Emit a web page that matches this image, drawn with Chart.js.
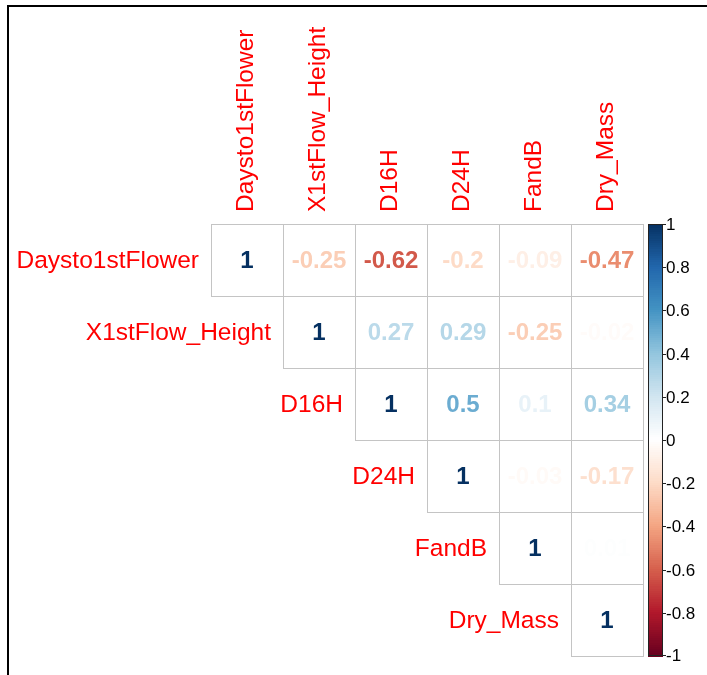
<!DOCTYPE html>
<html>
<head>
<meta charset="utf-8">
<script src="https://cdn.jsdelivr.net/npm/chart.js@4/dist/chart.umd.min.js"></script>
<style>
  html, body { margin: 0; padding: 0; background: #fff; }
  #wrap { position: relative; width: 707px; height: 675px; }
  #frame { position: absolute; left: 7px; top: 5px; right: 0; bottom: 0;
           border-top: 2px solid #000; border-left: 2px solid #000; pointer-events: none; }
  canvas { display: block; }
</style>
</head>
<body>
<div id="wrap">
  <canvas id="c" width="707" height="675"></canvas>
  <div id="frame"></div>
</div>
<script>
// ---- data ----
const variables = ['Daysto1stFlower', 'X1stFlow_Height', 'D16H', 'D24H', 'FandB', 'Dry_Mass'];
const corrDaysto1stFlower = [1, -0.25, -0.62, -0.2, -0.09, -0.47];
const corrX1stFlowHeight  = [null, 1, 0.27, 0.29, -0.25, -0.02];
const corrD16H            = [null, null, 1, 0.5, 0.1, 0.34];
const corrD24H            = [null, null, null, 1, -0.03, -0.17];
const corrFandB           = [null, null, null, null, 1, 0.01];
const corrDryMass         = [null, null, null, null, null, 1];
const legendTicks = [1, 0.8, 0.6, 0.4, 0.2, 0, -0.2, -0.4, -0.6, -0.8, -1];
const rdbu = ['#67001F', '#B2182B', '#D6604D', '#F4A582', '#FDDBC7', '#FFFFFF',
              '#D1E5F0', '#92C5DE', '#4393C3', '#2166AC', '#053061'];

const corrRows = [corrDaysto1stFlower, corrX1stFlowHeight, corrD16H, corrD24H, corrFandB, corrDryMass];

function hex2rgb(h) { return [parseInt(h.slice(1,3),16), parseInt(h.slice(3,5),16), parseInt(h.slice(5,7),16)]; }
const stops = rdbu.map(hex2rgb);
function colorFor(v) {
  const t = Math.max(0, Math.min(1, (v + 1) / 2)) * (stops.length - 1);
  const i = Math.min(stops.length - 2, Math.floor(t));
  const f = t - i;
  const a = stops[i], b = stops[i + 1];
  return 'rgb(' + a.map((c, k) => Math.round(c + (b[k] - c) * f)).join(',') + ')';
}

const points = [];
corrRows.forEach((row, i) => row.forEach((v, j) => {
  if (v !== null) points.push({ x: j + 0.5, y: i + 0.5, v: v });
}));

const LABEL_FONT = '24.5px "Liberation Sans", Arial, sans-serif';
const NUM_FONT = 'bold 24px "Liberation Sans", Arial, sans-serif';
const LEG_FONT = '17px "Liberation Sans", Arial, sans-serif';

const corrPlugin = {
  id: 'corrPlugin',
  afterDatasetsDraw(chart) {
    const ctx = chart.ctx;
    const xs = chart.scales.x, ys = chart.scales.y, yc = chart.scales.yc;
    const data = chart.data.datasets[0].data;
    ctx.save();
    // cells
    ctx.strokeStyle = '#C4C4C4';
    ctx.lineWidth = 1;
    data.forEach(p => {
      const x0 = Math.round(xs.getPixelForValue(p.x - 0.5)) + 0.5;
      const x1 = Math.round(xs.getPixelForValue(p.x + 0.5)) + 0.5;
      const y0 = Math.round(ys.getPixelForValue(p.y - 0.5)) + 0.5;
      const y1 = Math.round(ys.getPixelForValue(p.y + 0.5)) + 0.5;
      ctx.fillStyle = '#fff';
      ctx.fillRect(x0, y0, x1 - x0, y1 - y0);
      ctx.strokeRect(x0, y0, x1 - x0, y1 - y0);
    });
    // numbers
    ctx.font = NUM_FONT;
    ctx.textAlign = 'center';
    ctx.textBaseline = 'middle';
    data.forEach(p => {
      ctx.fillStyle = colorFor(p.v);
      ctx.fillText(String(p.v), xs.getPixelForValue(p.x), ys.getPixelForValue(p.y) + 1);
    });
    // row labels
    ctx.font = LABEL_FONT;
    ctx.fillStyle = '#FF0000';
    ctx.textAlign = 'right';
    variables.forEach((name, i) => {
      ctx.fillText(name, xs.getPixelForValue(i) - 12, ys.getPixelForValue(i + 0.5) + 1);
    });
    // column labels (rotated)
    ctx.textAlign = 'left';
    variables.forEach((name, j) => {
      ctx.save();
      ctx.translate(xs.getPixelForValue(j + 0.5) - 1, ys.getPixelForValue(0) - 12);
      ctx.rotate(-Math.PI / 2);
      ctx.fillText(name, 0, 0);
      ctx.restore();
    });
    // colour legend
    const bx0 = xs.right + 5, bx1 = xs.right + 20;
    const top = yc.getPixelForValue(1), bot = yc.getPixelForValue(-1);
    const n = 200;
    for (let k = 0; k < n; k++) {
      const v1 = 1 - (2 * k) / n, v2 = 1 - (2 * (k + 1)) / n;
      const ya = yc.getPixelForValue(v1), yb = yc.getPixelForValue(v2);
      ctx.fillStyle = colorFor((v1 + v2) / 2);
      ctx.fillRect(bx0, Math.floor(ya), bx1 - bx0, Math.ceil(yb) - Math.floor(ya) + 1);
    }
    ctx.strokeStyle = '#222';
    ctx.lineWidth = 1;
    ctx.strokeRect(bx0 + 0.5, Math.round(top) + 0.5, bx1 - bx0 - 1, Math.round(bot - top) - 1);
    ctx.font = LEG_FONT;
    ctx.fillStyle = '#000';
    ctx.textAlign = 'left';
    ctx.textBaseline = 'middle';
    legendTicks.forEach(t => {
      const y = Math.round(yc.getPixelForValue(t)) + 0.5;
      const yy = Math.min(Math.max(y, top + 0.5), bot - 0.5);
      ctx.beginPath();
      ctx.moveTo(bx1, yy);
      ctx.lineTo(bx1 + 3, yy);
      ctx.stroke();
      ctx.fillText(String(t), bx1 + 3, yy + 1);
    });
    ctx.restore();
  }
};

new Chart(document.getElementById('c'), {
  type: 'scatter',
  data: {
    datasets: [{ data: points, pointRadius: 0, pointHoverRadius: 0, showLine: false }]
  },
  options: {
    responsive: false,
    animation: false,
    events: [],
    layout: { padding: { left: 211, right: 64, top: 224, bottom: 19 } },
    plugins: { legend: { display: false }, tooltip: { enabled: false } },
    scales: {
      x: { type: 'linear', min: 0, max: 6, display: false },
      y: { type: 'linear', min: 0, max: 6, reverse: true, display: false },
      yc: { type: 'linear', min: -1, max: 1, display: false, position: 'right' }
    }
  },
  plugins: [corrPlugin]
});
</script>
</body>
</html>
